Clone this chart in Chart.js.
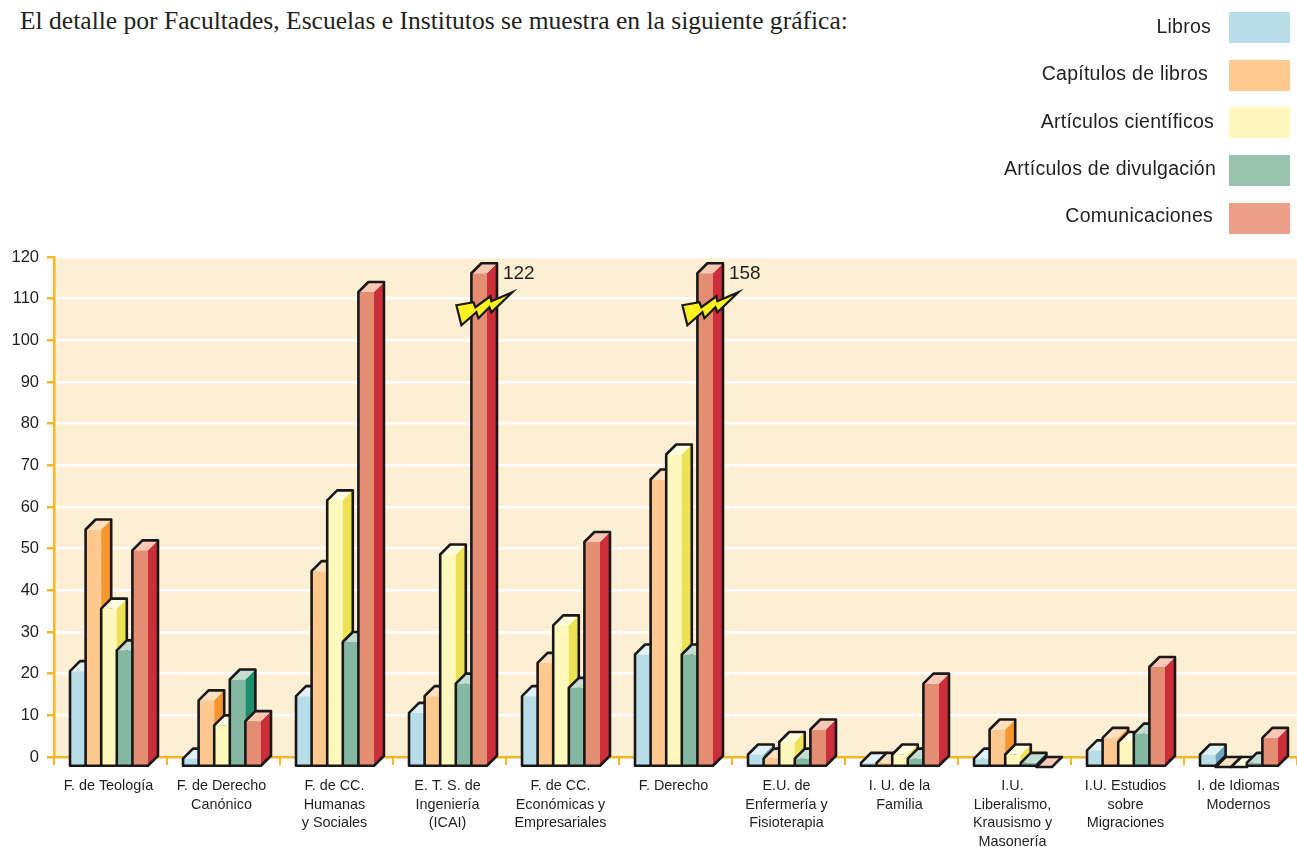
<!DOCTYPE html>
<html lang="es">
<head>
<meta charset="utf-8">
<script src="https://cdn.jsdelivr.net/npm/chart.js@4"></script>
<style>
html,body{margin:0;padding:0;background:#fff;overflow:hidden}
#wrap{position:relative;width:1297px;height:847px}
canvas{position:absolute;left:0;top:0}
#title{position:absolute;left:20px;top:6px;font:25.56px "Liberation Serif",serif;color:#231f20;white-space:nowrap}
.lg{position:absolute;font:19.5px/22px "Liberation Sans",Arial,sans-serif;letter-spacing:.25px;color:#231f20;white-space:nowrap;text-align:right}
.sw{position:absolute;left:1229px;width:61px;height:31px}
</style>
</head>
<body>
<div id="wrap">
<div id="title">El detalle por Facultades, Escuelas e Institutos se muestra en la siguiente gráfica:</div>
<canvas id="c" width="1297" height="847"></canvas>
</div>
<script>
const categories = [
  ["F. de Teología"],
  ["F. de Derecho","Canónico"],
  ["F. de CC.","Humanas","y Sociales"],
  ["E. T. S. de","Ingeniería","(ICAI)"],
  ["F. de CC.","Económicas y","Empresariales"],
  ["F. Derecho"],
  ["E.U. de","Enfermería y","Fisioterapia"],
  ["I. U. de la","Familia"],
  ["I.U.","Liberalismo,","Krausismo y","Masonería"],
  ["I.U. Estudios","sobre","Migraciones"],
  ["I. de Idiomas","Modernos"]
];
const libros         = [23, 2, 17, 13, 17, 27, 3, 1, 2, 4, 3];
const capitulos      = [57, 16, 47, 17, 25, 69, 2, 1, 9, 7, 0];
const articulos      = [38, 10, 64, 51, 34, 75, 6, 3, 3, 6, 0];
const divulgacion    = [28, 21, 30, 20, 19, 27, 2, 2, 1, 8, 1];
const comunicaciones = [52, 11, 114, 122, 54, 158, 9, 20, 0, 24, 7];
const yTicksMax = 120;
const brokenBarTop = 118.5;   // height at which off-scale bars are cut

const seriesNames = ["Libros","Capítulos de libros","Artículos científicos","Artículos de divulgación","Comunicaciones"];
const seriesValues = [libros,capitulos,articulos,divulgacion,comunicaciones];
const frontColors = ["#b7dde8","#ffc88e","#fff8bc","#85b8a3","#e38e73"];
const topColors   = ["#e0f2f6","#ffe1c0","#fffde0","#c3ddd0","#fcc8b6"];
const sideColors  = ["#6fa9c0","#f7962f","#ede154","#1c8e6b","#cc2e3a"];
const legendColors= ["#b7dde8","#ffca90","#fff9c0","#97c3af","#eb9f88"];
const legendTops  = [12,60,107,155,203];
const legendTextTops = [15,62,110,157,204];
const legendRights= [1211,1208,1214,1216,1213];

const wrap = document.getElementById('wrap');
seriesNames.forEach((n,i)=>{
  const s=document.createElement('div');s.className='sw';s.style.top=legendTops[i]+'px';s.style.background=legendColors[i];wrap.appendChild(s);
  const t=document.createElement('div');t.className='lg';t.textContent=n;
  t.style.right=(1297-legendRights[i])+'px';t.style.top=legendTextTops[i]+'px';wrap.appendChild(t);
});

const DEPTH = 10, SHIFT = -1.5, INK = '#1a1718';
// Bars are drawn as extruded boxes, left to right, after the library has laid them out.
Chart.BarElement.prototype.draw = function(){};
function drawBox(ctx,el,i){
  const w=el.width, l=el.x+SHIFT-w/2, r=l+w, t=el.y+DEPTH, b=el.base+DEPTH, d=DEPTH;
  ctx.save();
  ctx.lineWidth=2.6; ctx.lineJoin='round'; ctx.strokeStyle=INK;
  const poly=(pts,fill)=>{ctx.beginPath();pts.forEach((p,k)=>k?ctx.lineTo(p[0],p[1]):ctx.moveTo(p[0],p[1]));ctx.closePath();ctx.fillStyle=fill;ctx.fill();};
  poly([[l,t],[r,t],[r,b],[l,b]],frontColors[i]);
  poly([[r,t],[r+d,t-d],[r+d,b-d],[r,b]],sideColors[i]);
  poly([[l,t],[l+d,t-d],[r+d,t-d],[r,t]],topColors[i]);
  ctx.beginPath();
  ctx.moveTo(l,b);ctx.lineTo(l,t);ctx.lineTo(l+d,t-d);ctx.lineTo(r+d,t-d);ctx.lineTo(r+d,b-d);ctx.lineTo(r,b);ctx.closePath();
  ctx.stroke();
  ctx.restore();
}

const boltShape=[[-15,42],[2,39],[4,44],[19,33],[20,38],[41,29],[20,49],[18,44],[7,55],[5,49],[-10,62]];
const decor={
  id:'decor',
  beforeDraw(ch){
    const a=ch.chartArea,c=ch.ctx;
    c.save();c.fillStyle='#fdefd3';c.fillRect(a.left,a.top,a.right-a.left,a.bottom-a.top);c.restore();
  },
  afterDatasetsDraw(ch){
    const c=ch.ctx;
    seriesNames.forEach((n,i)=>ch.getDatasetMeta(i).data.forEach(el=>drawBox(c,el,i)));
    const meta=ch.getDatasetMeta(4);
    comunicaciones.forEach((v,i)=>{
      if(v<=yTicksMax) return;
      const el=meta.data[i],w=el.width,l=el.x+SHIFT-w/2;
      const top=ch.scales.y.getPixelForValue(brokenBarTop);
      c.save();c.beginPath();
      boltShape.forEach((p,k)=>k?c.lineTo(l+p[0],top+p[1]):c.moveTo(l+p[0],top+p[1]));
      c.closePath();c.fillStyle='#fff21e';c.fill();c.lineWidth=2.2;c.lineJoin='miter';c.strokeStyle=INK;c.stroke();
      c.fillStyle='#231f20';c.font='19px "Liberation Sans",Arial,sans-serif';c.textBaseline='middle';c.textAlign='left';
      c.fillText(String(v),l+w+DEPTH+6,top+11);
      c.restore();
    });
  }
};

const GOLD='#f5b625';
new Chart(document.getElementById('c'),{
  type:'bar',
  data:{
    labels:categories,
    datasets:seriesNames.map((n,i)=>({
      label:n,
      data:seriesValues[i].map(v=>v>yTicksMax?brokenBarTop:v),
      backgroundColor:frontColors[i],
      clip:false,
      barPercentage:1,
      categoryPercentage:0.69
    }))
  },
  plugins:[decor],
  options:{
    responsive:false,animation:false,
    layout:{padding:{top:257,left:0,right:0,bottom:0}},
    plugins:{legend:{display:false},tooltip:{enabled:false},title:{display:false}},
    scales:{
      x:{
        afterFit(s){s.height=90;},
        grid:{drawOnChartArea:false,tickColor:GOLD,tickLength:8,lineWidth:2},
        border:{color:GOLD,width:2},
        ticks:{autoSkip:false,maxRotation:0,minRotation:0,padding:12,labelOffset:-2,color:'#231f20',
          font:{family:'"Liberation Sans",Arial,sans-serif',size:14.4,lineHeight:1.285}}
      },
      y:{
        min:0,max:yTicksMax,
        afterFit(s){s.width=54;},
        grid:{color:c=>c.tick&&c.tick.value===0?GOLD:'#ffffff',tickColor:GOLD,tickLength:7,lineWidth:2.5},
        border:{color:GOLD,width:2.5},
        ticks:{stepSize:10,padding:8,color:'#231f20',font:{family:'"Liberation Sans",Arial,sans-serif',size:16.5}}
      }
    }
  }
});
</script>
</body>
</html>
